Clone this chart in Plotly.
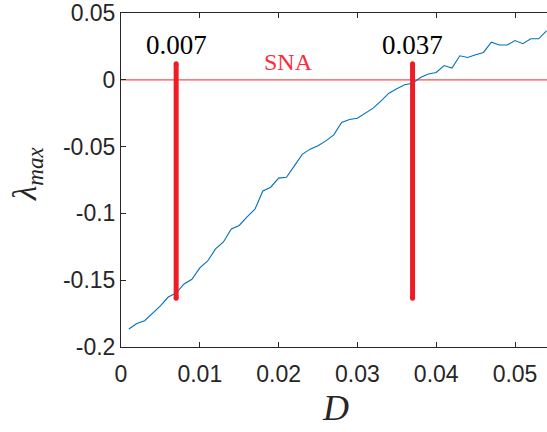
import plotly.graph_objects as go

# Largest Lyapunov exponent versus noise intensity D
D = [0.001, 0.002, 0.003, 0.004, 0.005, 0.006, 0.007, 0.008, 0.009, 0.010,
     0.011, 0.012, 0.013, 0.014, 0.015, 0.016, 0.017, 0.018, 0.019, 0.020,
     0.021, 0.022, 0.023, 0.024, 0.025, 0.026, 0.027, 0.028, 0.029, 0.030,
     0.031, 0.032, 0.033, 0.034, 0.035, 0.036, 0.037, 0.038, 0.039, 0.040,
     0.041, 0.042, 0.043, 0.044, 0.045, 0.046, 0.047, 0.048, 0.049, 0.050,
     0.051, 0.052, 0.053, 0.054]
lam_max = [-0.1865, -0.1824, -0.1803, -0.1746, -0.1693, -0.1626, -0.1596, -0.1528, -0.1493, -0.1408,
           -0.1356, -0.1266, -0.1214, -0.1116, -0.1090, -0.1026, -0.0969, -0.0832, -0.0804, -0.0736,
           -0.0729, -0.0644, -0.0558, -0.0519, -0.0494, -0.0457, -0.0412, -0.0320, -0.0297, -0.0288,
           -0.0252, -0.0212, -0.0157, -0.0100, -0.0067, -0.0037, -0.0026, 0.0017, 0.0043, 0.0055,
           0.0107, 0.0088, 0.0180, 0.0167, 0.0187, 0.0205, 0.0282, 0.0260, 0.0260, 0.0294,
           0.0270, 0.0307, 0.0307, 0.0367]

# SNA boundaries in D and the vertical extent of the marker bars
sna_bounds = [0.007, 0.037]
sna_labels = ["0.007", "0.037"]
bar_top = 0.012
bar_bottom = -0.1636
sna_text = "SNA"

x_ticks = [0, 0.01, 0.02, 0.03, 0.04, 0.05]
x_ticktext = ["0", "0.01", "0.02", "0.03", "0.04", "0.05"]
y_ticks = [-0.2, -0.15, -0.1, -0.05, 0, 0.05]
y_ticktext = ["-0.2", "-0.15", "-0.1", "-0.05", "0", "0.05"]
x_range = [0, 0.05406]
y_range = [-0.2, 0.05]

fig = go.Figure()

# zero reference line
fig.add_trace(go.Scatter(x=x_range, y=[0, 0], mode="lines",
                         line=dict(color="#ff4d4d", width=1.2),
                         hoverinfo="skip", showlegend=False))

fig.add_trace(go.Scatter(x=D, y=lam_max, mode="lines",
                         line=dict(color="#0072BD", width=1.1),
                         showlegend=False))

# thick boundary bars with rounded ends
for xb in sna_bounds:
    fig.add_trace(go.Scatter(x=[xb, xb], y=[bar_bottom, bar_top], mode="lines+markers",
                             line=dict(color="#ee1c25", width=5),
                             marker=dict(color="#ee1c25", size=5, line=dict(width=0)),
                             hoverinfo="skip", showlegend=False))

serif = "Liberation Serif, Times New Roman, serif"
sans = "Liberation Sans, Arial, Helvetica, sans-serif"

for xb, lab in zip(sna_bounds, sna_labels):
    fig.add_annotation(x=xb, y=0.0262, xref="x", yref="y", text=lab,
                       showarrow=False, font=dict(family=serif, size=27, color="black"),
                       xanchor="center", yanchor="middle")

fig.add_annotation(x=0.0213, y=0.0135, xref="x", yref="y", text=sna_text,
                   showarrow=False, font=dict(family=serif, size=24, color="#ff2a3a"),
                   xanchor="center", yanchor="middle")

# axis titles, positioned in paper coordinates of the plot box (121..547, 13..347 px)
fig.add_annotation(x=(27 - 121) / 426, y=(347 - 174) / 334, xref="paper", yref="paper",
                   text="<i>λ<sub>max</sub></i>", showarrow=False, textangle=-90,
                   font=dict(family=serif, size=33, color="#262626"),
                   xanchor="center", yanchor="middle")
fig.add_annotation(x=(335 - 121) / 426, y=(347 - 408) / 334, xref="paper", yref="paper",
                   text="<i>D</i>", showarrow=False,
                   font=dict(family=serif, size=36, color="#262626"),
                   xanchor="center", yanchor="middle")

fig.update_xaxes(range=x_range, tickvals=x_ticks, ticktext=x_ticktext,
                 ticks="inside", ticklen=5, tickcolor="#262626", tickwidth=1,
                 showline=True, linecolor="#262626", linewidth=1, mirror="ticks",
                 showgrid=False, zeroline=False, ticklabelstandoff=6,
                 tickfont=dict(family=sans, size=23, color="#262626"))
fig.update_yaxes(range=y_range, tickvals=y_ticks, ticktext=y_ticktext,
                 ticks="inside", ticklen=5, tickcolor="#262626", tickwidth=1,
                 showline=True, linecolor="#262626", linewidth=1,
                 showgrid=False, zeroline=False,
                 tickfont=dict(family=sans, size=23, color="#262626"))

fig.update_layout(width=547, height=432, margin=dict(l=121, r=0, t=13, b=85),
                  paper_bgcolor="white", plot_bgcolor="white")

fig.write_html("out.html")
